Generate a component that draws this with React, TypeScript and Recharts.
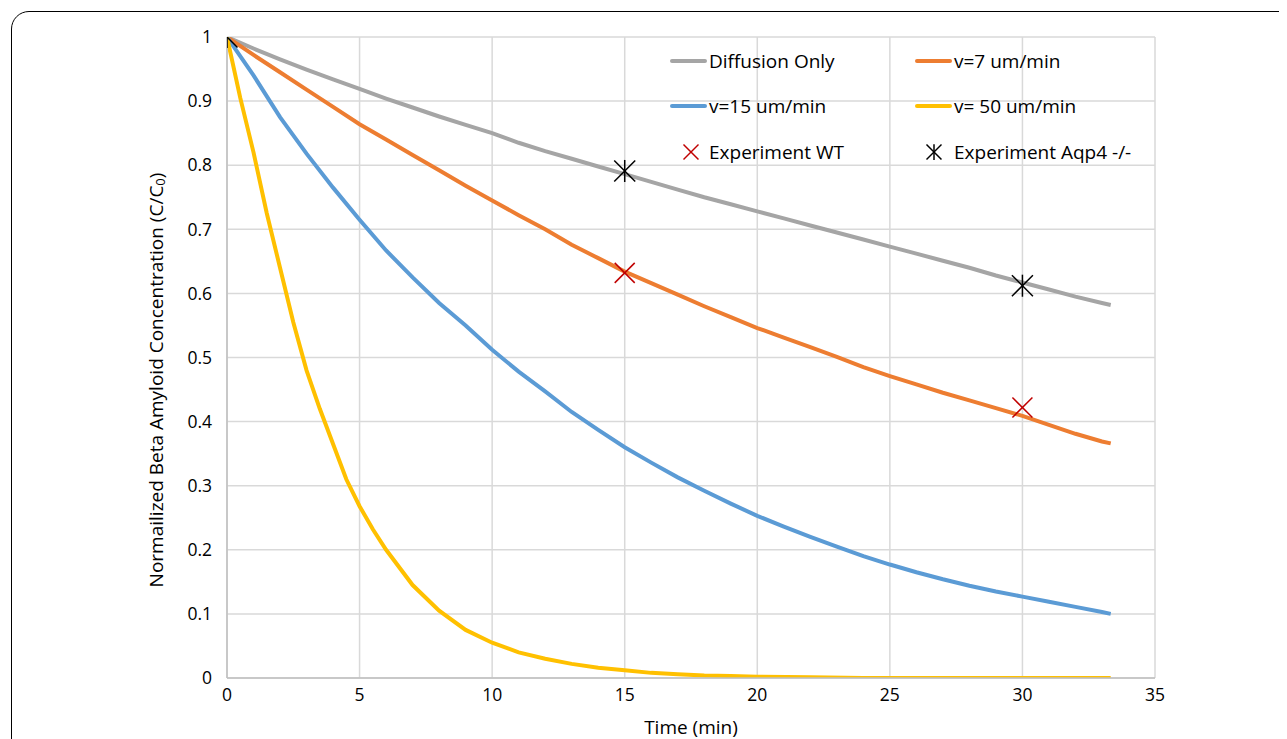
import { ComposedChart, Line, XAxis, YAxis, CartesianGrid, Label } from 'recharts';

// time in minutes, values are C/C0
const times = [0, 1, 2, 3, 4, 5, 6, 7, 8, 9, 10, 11, 12, 13, 14, 15, 16, 17, 18, 19, 20, 21, 22, 23, 24, 25, 26, 27, 28, 29, 30, 31, 32, 33, 33.33];

const diffusionOnly = [1, 0.982, 0.965, 0.949, 0.934, 0.919, 0.904, 0.89, 0.876, 0.863, 0.85, 0.835, 0.822, 0.81, 0.798, 0.786, 0.774, 0.762, 0.75, 0.739, 0.728, 0.717, 0.706, 0.695, 0.684, 0.673, 0.662, 0.651, 0.64, 0.628, 0.617, 0.606, 0.595, 0.585, 0.582];
const v7 = [1, 0.972, 0.945, 0.918, 0.891, 0.864, 0.84, 0.816, 0.792, 0.768, 0.745, 0.722, 0.7, 0.676, 0.655, 0.634, 0.616, 0.598, 0.58, 0.563, 0.546, 0.531, 0.516, 0.501, 0.485, 0.471, 0.458, 0.445, 0.433, 0.421, 0.409, 0.395, 0.381, 0.369, 0.366];
const v15 = [1, 0.94, 0.875, 0.818, 0.765, 0.715, 0.667, 0.625, 0.585, 0.55, 0.512, 0.478, 0.447, 0.415, 0.387, 0.36, 0.336, 0.313, 0.292, 0.272, 0.253, 0.236, 0.22, 0.205, 0.19, 0.177, 0.165, 0.154, 0.144, 0.135, 0.127, 0.119, 0.111, 0.103, 0.1];

const v50Times = [0, 0.5, 1, 1.5, 2, 2.5, 3, 3.5, 4, 4.5, 5, 5.5, 6, 7, 8, 9, 10, 11, 12, 13, 14, 15, 16, 17, 18, 19, 20, 22, 24, 26, 28, 30, 33.33];
const v50 = [1, 0.905, 0.82, 0.725, 0.64, 0.555, 0.48, 0.42, 0.365, 0.31, 0.268, 0.232, 0.2, 0.145, 0.105, 0.075, 0.055, 0.04, 0.03, 0.022, 0.016, 0.012, 0.008, 0.006, 0.004, 0.003, 0.002, 0.001, 0, 0, 0, 0, 0];

const wtTimes = [15, 30];
const wtValues = [0.632, 0.422];
const aqp4Times = [0, 15, 30];
const aqp4Values = [1, 0.791, 0.612];

const xTicks = [0, 5, 10, 15, 20, 25, 30, 35];
const yTicks = [0, 0.1, 0.2, 0.3, 0.4, 0.5, 0.6, 0.7, 0.8, 0.9, 1];

const toPoints = (ts: number[], vs: number[]) => ts.map((t, i) => ({ t, v: vs[i] }));

const FONT = '"Open Sans", sans-serif';

const XMark = ({ cx, cy, r, color }: { cx: number; cy: number; r: number; color: string }) => (
    <g>
        <line x1={cx - r} y1={cy - r} x2={cx + r} y2={cy + r} stroke={color} strokeWidth={1.5} />
        <line x1={cx - r} y1={cy + r} x2={cx + r} y2={cy - r} stroke={color} strokeWidth={1.5} />
    </g>
);

const Star = ({ cx, cy, r }: { cx: number; cy: number; r: number }) => (
    <g>
        <XMark cx={cx} cy={cy} r={r} color="#000" />
        <line x1={cx} y1={cy - r * 1.05} x2={cx} y2={cy + r * 1.05} stroke="#000" strokeWidth={1.5} />
    </g>
);

const YTitle = (props: any) => {
    const { viewBox } = props;
    const x = viewBox.x - 11;
    const y = 372;
    return (
        <text x={x} y={y} transform={`rotate(-90, ${x}, ${y})`} textAnchor="middle" dominantBaseline="central" fontSize={19} fill="#000" fontFamily={FONT}>
            Normailized Beta Amyloid Concentration (C/C<tspan fontSize={13} dy={4}>0</tspan><tspan dy={-4}>)</tspan>
        </text>
    );
};

const legendLines = [
    { x: 664, y: 53, color: '#a5a5a5', label: 'Diffusion Only' },
    { x: 909, y: 53, color: '#ed7d31', label: 'v=7 um/min' },
    { x: 664, y: 98, color: '#5b9bd5', label: 'v=15 um/min' },
    { x: 909, y: 98, color: '#ffc000', label: 'v= 50 um/min' },
];

const App = (): JSX.Element => (
    <div style={{ position: 'relative', width: 1279, height: 731, overflow: 'hidden', fontFamily: FONT }}>
        <div style={{ position: 'absolute', left: 3, top: 3, width: 1320, height: 800, border: '1px solid #000', borderRadius: 18 }} />
        <div style={{ position: 'absolute', left: 0, top: 0 }}>
            <ComposedChart width={1279} height={731} margin={{ top: 29, right: 132, left: 159, bottom: 31 }}>
                <CartesianGrid stroke="#d9d9d9" strokeWidth={1.5} />
                <XAxis
                    type="number"
                    dataKey="t"
                    domain={[0, 35]}
                    ticks={xTicks}
                    height={30}
                    tickLine={false}
                    tickSize={0}
                    tickMargin={11}
                    axisLine={{ stroke: '#bfbfbf', strokeWidth: 1.5 }}
                    tick={{ fill: '#000', fontSize: 17.5, fontFamily: FONT }}
                    allowDataOverflow
                >
                    <Label value="Time (min)" position="bottom" offset={13} fill="#000" fontSize={19} fontFamily={FONT} />
                </XAxis>
                <YAxis
                    type="number"
                    domain={[0, 1]}
                    ticks={yTicks}
                    width={60}
                    tickLine={false}
                    tickSize={0}
                    tickMargin={15}
                    axisLine={{ stroke: '#bfbfbf', strokeWidth: 1.5 }}
                    tick={{ fill: '#000', fontSize: 17.5, fontFamily: FONT }}
                    tickFormatter={(v: number) => String(v)}
                    allowDataOverflow
                >
                    <Label content={YTitle} />
                </YAxis>
                <Line data={toPoints(times, diffusionOnly)} dataKey="v" type="linear" stroke="#a5a5a5" strokeWidth={4} dot={false} isAnimationActive={false} />
                <Line data={toPoints(times, v7)} dataKey="v" type="linear" stroke="#ed7d31" strokeWidth={4} dot={false} isAnimationActive={false} />
                <Line data={toPoints(times, v15)} dataKey="v" type="linear" stroke="#5b9bd5" strokeWidth={4} dot={false} isAnimationActive={false} />
                <Line data={toPoints(v50Times, v50)} dataKey="v" type="linear" stroke="#ffc000" strokeWidth={4} dot={false} isAnimationActive={false} />
                <Line
                    data={toPoints(wtTimes, wtValues)}
                    dataKey="v"
                    stroke="none"
                    isAnimationActive={false}
                    dot={(p: any) => <XMark key={`wt-${p.index}`} cx={p.cx} cy={p.cy} r={10} color="#c00000" />}
                />
                <Line
                    data={toPoints(aqp4Times, aqp4Values)}
                    dataKey="v"
                    stroke="none"
                    isAnimationActive={false}
                    dot={(p: any) => <Star key={`aqp-${p.index}`} cx={p.cx} cy={p.cy} r={10.5} />}
                />
            </ComposedChart>
        </div>
        <svg width={1279} height={731} style={{ position: 'absolute', left: 0, top: 0, pointerEvents: 'none' }}>
            {legendLines.map((l) => (
                <g key={l.label}>
                    <line x1={l.x} y1={l.y} x2={l.x + 33} y2={l.y} stroke={l.color} strokeWidth={4} strokeLinecap="round" />
                    <text x={l.x + 37} y={l.y} dominantBaseline="central" fontSize={19} fontFamily={FONT} fill="#000">{l.label}</text>
                </g>
            ))}
            <XMark cx={683} cy={144} r={7.5} color="#c00000" />
            <text x={701} y={144} dominantBaseline="central" fontSize={19} fontFamily={FONT} fill="#000">Experiment WT</text>
            <Star cx={926} cy={144} r={7.5} />
            <text x={946} y={144} dominantBaseline="central" fontSize={19} fontFamily={FONT} fill="#000">Experiment Aqp4 -/-</text>
        </svg>
    </div>
);

export default App;
